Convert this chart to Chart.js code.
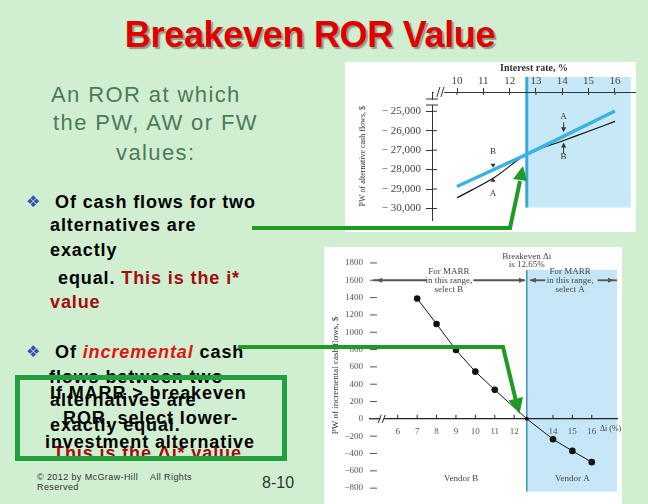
<!DOCTYPE html>
<html>
<head>
<meta charset="utf-8">
<script src="https://cdn.jsdelivr.net/npm/chart.js@4/dist/chart.umd.min.js"></script>
<style>
  html, body { margin: 0; padding: 0; }
  body { width: 648px; height: 504px; background: #d0eed0; position: relative; overflow: hidden;
         font-family: "Liberation Sans", Arial, sans-serif; }
  .t { position: absolute; white-space: nowrap; line-height: 24px; }
  .intro { font-size: 22px; color: #4e7a5c; letter-spacing: 1.4px; }
  .b { font-size: 18px; font-weight: bold; color: #000; letter-spacing: 0.9px; }
  .dk { color: #a30c0c; }
  .hot { color: #e01414; font-style: italic; }
  .glyph { position: absolute; font-family: "DejaVu Sans", sans-serif; font-size: 16px; color: #3b4db8; line-height: 16px; }
  #title { position: absolute; left: 0; width: 620px; top: 17px; text-align: center; font-size: 36px; line-height: 36px;
           font-weight: bold; color: #e00000; text-shadow: 2px 2px 1px #8e9e8e; letter-spacing: -0.3px; }
  #box { position: absolute; left: 15px; top: 375px; width: 272px; height: 86px; box-sizing: border-box;
         border: 5px solid #22a040; z-index: 2; }
  .boxt { z-index: 3; }
  canvas { position: absolute; background: #fff; z-index: 1; }
  #topChart { left: 345px; top: 62px; }
  #bottomChart { left: 324px; top: 247px; }
  .foot { position: absolute; font-size: 9px; color: #333; line-height: 10px; letter-spacing: 0.4px; white-space: nowrap; }
  #arrows { position: absolute; left: 0; top: 0; z-index: 10; }
</style>
</head>
<body>
<div id="title">Breakeven ROR Value</div>

<div class="t intro" style="left:51px; top:83px;">An ROR at which</div>
<div class="t intro" style="left:53px; top:111px;">the PW, AW or FW</div>
<div class="t intro" style="left:116px; top:141px;">values:</div>

<div class="glyph" style="left:26px; top:194px;">❖</div>
<div class="t b" style="left:55px; top:190px;">Of cash flows for two</div>
<div class="t b" style="left:50px; top:213px;">alternatives are</div>
<div class="t b" style="left:50px; top:238px;">exactly</div>
<div class="t b" style="left:58px; top:266px;">equal. <span class="dk">This is the i*</span></div>
<div class="t b dk" style="left:50px; top:290px;">value</div>

<div class="glyph" style="left:26px; top:344px;">❖</div>
<div class="t b" style="left:55px; top:340px;">Of <span class="hot">incremental</span> cash</div>
<div class="t b" style="left:49px; top:365px;">flows between two</div>
<div class="t b" style="left:50px; top:388px;">alternatives are</div>
<div class="t b" style="left:50px; top:413px;">exactly equal.</div>
<div class="t b dk" style="left:53px; top:441px;">This is the Δi* value</div>

<div id="box"></div>
<div class="t b boxt" style="left:50px; top:381px;">If MARR &gt; breakeven</div>
<div class="t b boxt" style="left:63px; top:406px;">ROR, select lower-</div>
<div class="t b boxt" style="left:45px; top:430px;">investment alternative</div>

<div class="foot" style="left:37px; top:472px;">© 2012 by McGraw-Hill</div>
<div class="foot" style="left:150px; top:472px;">All Rights</div>
<div class="foot" style="left:37px; top:482px;">Reserved</div>
<div class="t" style="left:262px; top:471px; font-size:16px; color:#333;">8-10</div>

<canvas id="topChart" width="291" height="170"></canvas>
<canvas id="bottomChart" width="298" height="257"></canvas>

<svg id="arrows" width="648" height="504">
  <polyline points="252,228 510,228 520,181" fill="none" stroke="#1e9a25" stroke-width="4" stroke-linejoin="miter"/>
  <polygon points="523,166 527,181 513,179" fill="#1e9a25"/>
  <polyline points="238,347 503,347 515.5,399" fill="none" stroke="#1e9a25" stroke-width="4" stroke-linejoin="miter"/>
  <polygon points="519.5,414 523,397 508.5,400.5" fill="#1e9a25"/>
</svg>

<script>
// ---- top chart: PW of each alternative vs interest rate ----
const rateTicks = [10, 11, 12, 13, 14, 15, 16];
const pwTicks = [-25000, -26000, -27000, -28000, -29000, -30000];
const blueRate = [10, 12.65, 16];
const bluePW = [-28870, -27215, -24985];
const blackRate = [10, 11.4, 12.65, 14, 15, 16];
const blackPW = [-29450, -28420, -27215, -26530, -26030, -25520];
const breakevenRate = 12.65;

// ---- bottom chart: PW of incremental cash flows vs delta i ----
const incRate = [7, 8, 9, 10, 11, 12.65, 14, 15, 16];
const incPW = [1390, 1095, 795, 545, 335, 0, -235, -370, -500];
const incRateTicks = [6, 7, 8, 9, 10, 11, 12, 14, 15, 16];
const incPWTicks = [1800, 1600, 1400, 1200, 1000, 800, 600, 400, 200, 0, -200, -400, -600, -800];
const breakevenInc = 12.65;

const SERIF = '"Liberation Serif", "DejaVu Serif", serif';

function seg(ctx, x1, y1, x2, y2) {
    ctx.beginPath(); ctx.moveTo(x1, y1); ctx.lineTo(x2, y2); ctx.stroke();
}
// small filled triangle, tip at (x,y), pointing along angle a
function head(ctx, x, y, a, len, half) {
    const c = Math.cos(a), s = Math.sin(a);
    ctx.beginPath();
    ctx.moveTo(x, y);
    ctx.lineTo(x - c * len - s * half, y - s * len + c * half);
    ctx.lineTo(x - c * len + s * half, y - s * len - c * half);
    ctx.closePath(); ctx.fill();
}

/*------------------------------------------------
    上のグラフ: 網掛け、注記
------------------------------------------------*/
const topDecor = {
    id: 'topDecor',
    beforeDraw(chart) {
        const {ctx, chartArea: a, scales: {x, y}} = chart;
        const xb = x.getPixelForValue(breakevenRate);
        const xr = x.getPixelForValue(16.6);
        const yt = a.top - 15;
        const yb = y.getPixelForValue(-29950);
        ctx.save();
        ctx.fillStyle = '#c6e8f7';
        ctx.fillRect(xb, yt, xr - xb, yb - yt);
        ctx.strokeStyle = '#36a9dc';
        ctx.lineWidth = 3;
        seg(ctx, xb, yt, xb, yb);
        ctx.restore();
    },
    afterDraw(chart) {
        const {ctx, chartArea: a, scales: {x, y}} = chart;
        ctx.save();
        ctx.strokeStyle = '#333';
        ctx.fillStyle = '#333';
        ctx.lineWidth = 1;
        // ticks crossing the axes
        pwTicks.forEach(v => seg(ctx, a.left, y.getPixelForValue(v), a.left + 5, y.getPixelForValue(v)));
        rateTicks.forEach(v => seg(ctx, x.getPixelForValue(v), a.top, x.getPixelForValue(v), a.top + 3));
        // axis breaks
        const bx = x.getPixelForValue(9.35);
        ctx.fillStyle = '#fff';
        ctx.fillRect(a.left + 2, a.top - 1.5, bx - a.left + 2, 3);
        ctx.fillRect(a.left - 6, a.top + 8, 12, 5);
        ctx.strokeStyle = '#333';
        seg(ctx, bx - 3, a.top + 5, bx, a.top - 5);
        seg(ctx, bx + 1, a.top + 5, bx + 4, a.top - 5);
        seg(ctx, a.left - 6, a.top + 7, a.left + 6, a.top + 7);
        seg(ctx, a.left - 6, a.top + 13, a.left + 6, a.top + 13);
        // A / B labels
        ctx.fillStyle = '#333';
        ctx.font = '9px ' + SERIF;
        ctx.textAlign = 'center';
        ctx.textBaseline = 'middle';
        const xr = x.getPixelForValue(14.05), xl = x.getPixelForValue(11.37);
        ctx.fillText('A', xr, y.getPixelForValue(-25283));
        ctx.fillText('B', xr, y.getPixelForValue(-27358));
        ctx.fillText('B', xl, y.getPixelForValue(-27075));
        ctx.fillText('A', xl, y.getPixelForValue(-29245));
        seg(ctx, xr, y.getPixelForValue(-25566), xr, y.getPixelForValue(-26000));
        head(ctx, xr, y.getPixelForValue(-26085), Math.PI / 2, 5, 2.5);
        seg(ctx, xr, y.getPixelForValue(-27170), xr, y.getPixelForValue(-26700));
        head(ctx, xr, y.getPixelForValue(-26604), -Math.PI / 2, 5, 2.5);
        head(ctx, xl, y.getPixelForValue(-27900), Math.PI / 2, 4, 2.5);
        head(ctx, xl, y.getPixelForValue(-28420), -Math.PI / 2, 4, 2.5);
        ctx.restore();
    }
};

/*------------------------------------------------
    下のグラフ: 網掛け、矢印、注記
------------------------------------------------*/
const bottomDecor = {
    id: 'bottomDecor',
    beforeDraw(chart) {
        const {ctx, chartArea: a, scales: {x, y}} = chart;
        const xb = x.getPixelForValue(breakevenInc);
        const yt = y.getPixelForValue(1720);
        ctx.save();
        ctx.fillStyle = '#c4e6f6';
        ctx.fillRect(xb, yt, a.right - xb, a.bottom - yt);
        ctx.strokeStyle = '#3b93c3';
        ctx.lineWidth = 1.5;
        seg(ctx, xb, yt, xb, a.bottom);
        ctx.restore();
    },
    afterDraw(chart) {
        const {ctx, chartArea: a, scales: {x, y}} = chart;
        const y0 = y.getPixelForValue(0);
        ctx.save();
        ctx.strokeStyle = '#555';
        ctx.fillStyle = '#555';
        ctx.lineWidth = 1;
        incPWTicks.forEach(v => seg(ctx, a.left, y.getPixelForValue(v), a.left + 7, y.getPixelForValue(v)));
        ctx.strokeStyle = '#222';
        incRateTicks.forEach(v => seg(ctx, x.getPixelForValue(v), y0 - 4, x.getPixelForValue(v), y0));
        // axis break
        const bx = x.getPixelForValue(5.2);
        ctx.fillStyle = '#fff';
        ctx.fillRect(bx - 2, y0 - 1.5, 4, 3);
        seg(ctx, bx - 4, y0 + 4, bx - 1, y0 - 4);
        seg(ctx, bx, y0 + 4, bx + 3, y0 - 4);

        // MARR range arrows
        const ym = y.getPixelForValue(1600);
        ctx.strokeStyle = '#555';
        ctx.fillStyle = '#555';
        ctx.lineWidth = 1.8;
        const l1 = x.getPixelForValue(4.73), r1 = x.getPixelForValue(12.56);
        const l2 = x.getPixelForValue(12.81), r2 = a.right;
        seg(ctx, l1, ym, x.getPixelForValue(7.5), ym);
        seg(ctx, x.getPixelForValue(9.9), ym, r1, ym);
        seg(ctx, l2, ym, x.getPixelForValue(13.6), ym);
        seg(ctx, x.getPixelForValue(16.3), ym, r2, ym);
        head(ctx, l1 + 3, ym, Math.PI, 6, 2.6);
        head(ctx, r1, ym, 0, 6, 2.6);
        head(ctx, l2, ym, Math.PI, 6, 2.6);
        head(ctx, r2 - 3, ym, 0, 6, 2.6);

        ctx.fillStyle = '#444';
        ctx.font = '9px ' + SERIF;
        ctx.textAlign = 'center';
        ctx.textBaseline = 'middle';
        const cb = x.getPixelForValue(8.63), ca = x.getPixelForValue(14.89);
        ctx.fillText('For MARR', cb, ym - 8.5);
        ctx.fillText('in this range,', cb, ym);
        ctx.fillText('select B', cb, ym + 9);
        ctx.fillText('For MARR', ca, ym - 8.5);
        ctx.fillText('in this range,', ca, ym);
        ctx.fillText('select A', ca, ym + 9);
        const xb = x.getPixelForValue(breakevenInc), y18 = y.getPixelForValue(1800);
        ctx.fillText('Breakeven Δi', xb, y18 - 6.5);
        ctx.fillText('is 12.65%', xb, y18 + 1.5);
        ctx.fillText('Vendor B', x.getPixelForValue(9.27), y.getPixelForValue(-690));
        ctx.fillText('Vendor A', x.getPixelForValue(15.0), y.getPixelForValue(-690));
        ctx.font = '8px ' + SERIF;
        ctx.textAlign = 'left';
        ctx.fillText('Δi (%)', x.getPixelForValue(16.42), y0 + 10);
        ctx.restore();
    }
};

new Chart(document.getElementById('topChart'), {
    type: 'line',
    data: {
        datasets: [
            {
                label: 'PW (blue)',
                data: blueRate.map((r, i) => ({x: r, y: bluePW[i]})),
                borderColor: '#39b3e3',
                borderWidth: 3.5,
                pointRadius: 0,
                tension: 0
            },
            {
                label: 'PW (black)',
                data: blackRate.map((r, i) => ({x: r, y: blackPW[i]})),
                borderColor: '#111',
                borderWidth: 1.2,
                pointRadius: 0,
                cubicInterpolationMode: 'monotone'
            }
        ]
    },
    options: {
        responsive: false,
        animation: false,
        layout: {padding: 0},
        plugins: {legend: {display: false}, tooltip: {enabled: false}},
        scales: {
            x: {
                type: 'linear',
                position: 'top',
                min: 9.05,
                max: 16.8,
                afterBuildTicks: s => { s.ticks = rateTicks.map(v => ({value: v})); },
                afterFit: s => { s.height = 30; },
                grid: {drawOnChartArea: false, tickLength: 4, color: '#333'},
                border: {color: '#333', width: 1},
                ticks: {font: {family: SERIF, size: 11}, color: '#444', padding: 0, maxRotation: 0, autoSkip: false},
                title: {display: true, text: 'Interest rate, %', color: '#333',
                        font: {family: SERIF, size: 10, weight: 'bold'}, padding: {top: 0, bottom: 1}}
            },
            y: {
                min: -30613,
                max: -24009,
                afterBuildTicks: s => { s.ticks = pwTicks.map(v => ({value: v})); },
                afterFit: s => { s.width = 87; },
                grid: {drawOnChartArea: false, tickLength: 6, color: '#333'},
                border: {color: '#333', width: 1},
                ticks: {
                    font: {family: SERIF, size: 11}, color: '#444', padding: 5,
                    callback: v => '− ' + Math.abs(v).toLocaleString('en-US')
                },
                title: {display: true, text: 'PW of alternative cash flows, $', color: '#333',
                        font: {family: SERIF, size: 8}, padding: {top: 13, bottom: 0}}
            }
        }
    },
    plugins: [topDecor]
});

new Chart(document.getElementById('bottomChart'), {
    type: 'line',
    data: {
        datasets: [{
            label: 'Incremental PW',
            data: incRate.map((r, i) => ({x: r, y: incPW[i]})),
            borderColor: '#111',
            borderWidth: 1,
            backgroundColor: '#111',
            pointRadius: incRate.map(r => r === breakevenInc ? 2 : 3.3),
            pointBorderWidth: 0,
            tension: 0
        }]
    },
    options: {
        responsive: false,
        animation: false,
        layout: {padding: {top: 8, right: 5, bottom: 1, left: 0}},
        plugins: {legend: {display: false}, tooltip: {enabled: false}},
        scales: {
            x: {
                type: 'linear',
                position: {y: 0},
                min: 4.57,
                max: 17.3,
                afterBuildTicks: s => { s.ticks = incRateTicks.map(v => ({value: v})); },
                afterFit: s => { s.height = 0; },
                grid: {drawOnChartArea: false, drawTicks: false},
                border: {color: '#222', width: 1.3},
                ticks: {font: {family: SERIF, size: 9}, color: '#555', padding: 7, maxRotation: 0, autoSkip: false}
            },
            y: {
                min: -840,
                max: 1841,
                afterBuildTicks: s => { s.ticks = incPWTicks.map(v => ({value: v})); },
                afterFit: s => { s.width = 46; },
                grid: {display: false, drawTicks: false},
                border: {display: false},
                ticks: {
                    font: {family: SERIF, size: 9}, color: '#555', padding: 7,
                    callback: v => v < 0 ? '−' + Math.abs(v) : String(v)
                },
                title: {display: true, text: 'PW of incremental cash flows, $', color: '#333',
                        font: {family: SERIF, size: 9}, padding: {top: 6, bottom: 0}}
            }
        }
    },
    plugins: [bottomDecor]
});
</script>
</body>
</html>
